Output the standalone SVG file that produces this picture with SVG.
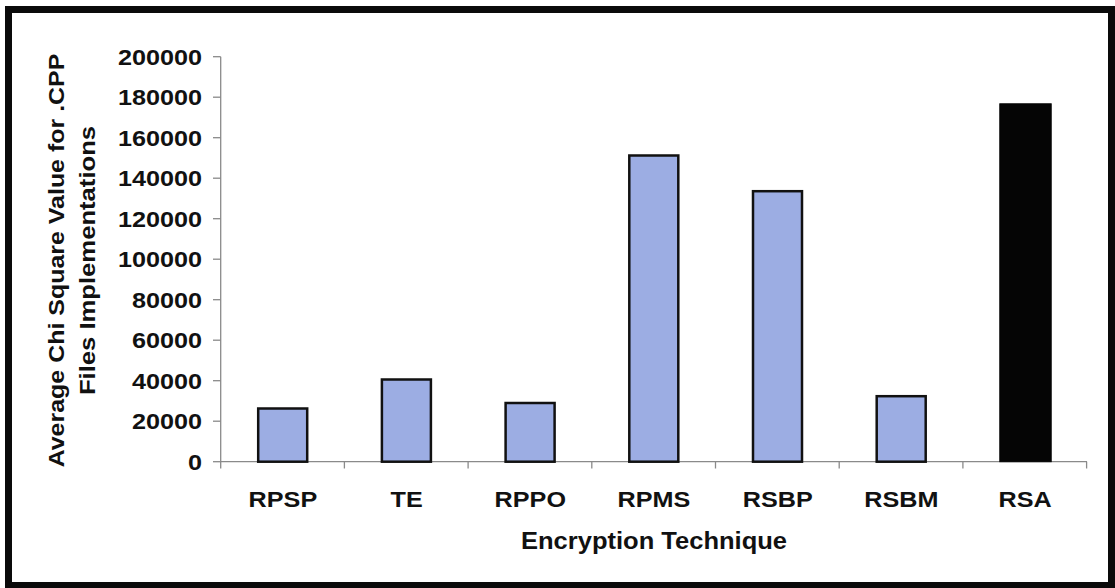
<svg xmlns="http://www.w3.org/2000/svg" width="1115" height="588" viewBox="0 0 1115 588">
  <style>
    .lbl { font-family: "Liberation Sans", Arial, sans-serif; font-weight: bold; font-size: 22.5px; fill: #111; }
    .num { text-anchor: end; }
    .cat { text-anchor: middle; }
    .axis { stroke: #8a8a8a; stroke-width: 1.3; fill: none; }
    .bar { fill: #9cade3; stroke: #111; stroke-width: 2.5; }
    .bar-dark { fill: #050505; stroke: #050505; stroke-width: 1; }
  </style>

  <!-- background and frame -->
  <rect x="0" y="0" width="1115" height="588" fill="#ffffff"/>
  <rect x="8.5" y="9.5" width="1103" height="576" fill="#ffffff" stroke="#0a0a0a" stroke-width="7"/>

  <!-- axes, ticks -->
  <g id="axes">
    <line class="axis" x1="220.7" y1="56.7" x2="220.7" y2="468.5"/>
    <line class="axis" x1="220.7" y1="461.7" x2="1087" y2="461.7"/>
    <g class="axis">
      <line x1="213" y1="461.7" x2="220.7" y2="461.7"/>
      <line x1="213" y1="421.2" x2="220.7" y2="421.2"/>
      <line x1="213" y1="380.7" x2="220.7" y2="380.7"/>
      <line x1="213" y1="340.2" x2="220.7" y2="340.2"/>
      <line x1="213" y1="299.7" x2="220.7" y2="299.7"/>
      <line x1="213" y1="259.2" x2="220.7" y2="259.2"/>
      <line x1="213" y1="218.7" x2="220.7" y2="218.7"/>
      <line x1="213" y1="178.2" x2="220.7" y2="178.2"/>
      <line x1="213" y1="137.7" x2="220.7" y2="137.7"/>
      <line x1="213" y1="97.2" x2="220.7" y2="97.2"/>
      <line x1="213" y1="56.7" x2="220.7" y2="56.7"/>
      <line x1="344.4" y1="461.7" x2="344.4" y2="468.5"/>
      <line x1="468.1" y1="461.7" x2="468.1" y2="468.5"/>
      <line x1="591.8" y1="461.7" x2="591.8" y2="468.5"/>
      <line x1="715.5" y1="461.7" x2="715.5" y2="468.5"/>
      <line x1="839.2" y1="461.7" x2="839.2" y2="468.5"/>
      <line x1="962.9" y1="461.7" x2="962.9" y2="468.5"/>
      <line x1="1086.6" y1="461.7" x2="1086.6" y2="468.5"/>
    </g>
  </g>

  <!-- value scale (labels widened horizontally) -->
  <g id="y-ticks" class="lbl num">
    <text transform="translate(202,64.8) scale(1.12,1)">200000</text>
    <text transform="translate(202,105.3) scale(1.12,1)">180000</text>
    <text transform="translate(202,145.8) scale(1.12,1)">160000</text>
    <text transform="translate(202,186.3) scale(1.12,1)">140000</text>
    <text transform="translate(202,226.8) scale(1.12,1)">120000</text>
    <text transform="translate(202,267.3) scale(1.12,1)">100000</text>
    <text transform="translate(202,307.8) scale(1.12,1)">80000</text>
    <text transform="translate(202,348.3) scale(1.12,1)">60000</text>
    <text transform="translate(202,388.8) scale(1.12,1)">40000</text>
    <text transform="translate(202,429.3) scale(1.12,1)">20000</text>
    <text transform="translate(202,469.8) scale(1.12,1)">0</text>
  </g>

  <!-- bars -->
  <g id="bar-rpsp"><rect class="bar" x="258.2" y="408.5" width="49" height="53.2"/></g>
  <g id="bar-te"><rect class="bar" x="381.9" y="379.5" width="49" height="82.2"/></g>
  <g id="bar-rppo"><rect class="bar" x="505.6" y="403" width="49" height="58.7"/></g>
  <g id="bar-rpms"><rect class="bar" x="629.3" y="155.5" width="49" height="306.2"/></g>
  <g id="bar-rsbp"><rect class="bar" x="753" y="191.2" width="49" height="270.5"/></g>
  <g id="bar-rsbm"><rect class="bar" x="876.7" y="396.2" width="49" height="65.5"/></g>
  <g id="bar-rsa"><rect class="bar-dark" x="999.8" y="103.8" width="51.4" height="357.9"/></g>

  <!-- category labels -->
  <g id="x-labels" class="lbl cat">
    <text transform="translate(282.9,506.8) scale(1.12,1)">RPSP</text>
    <text transform="translate(406.6,506.8) scale(1.12,1)">TE</text>
    <text transform="translate(530.3,506.8) scale(1.12,1)">RPPO</text>
    <text transform="translate(654,506.8) scale(1.12,1)">RPMS</text>
    <text transform="translate(777.7,506.8) scale(1.12,1)">RSBP</text>
    <text transform="translate(901.4,506.8) scale(1.12,1)">RSBM</text>
    <text transform="translate(1025.1,506.8) scale(1.12,1)">RSA</text>
  </g>

  <!-- axis titles -->
  <g id="x-title" class="lbl cat">
    <text transform="translate(654,549) scale(1.11,1)" style="font-size:23px">Encryption Technique</text>
  </g>
  <g id="y-title" class="lbl cat">
    <text transform="translate(64,260.5) rotate(-90) scale(1.11,1)">Average Chi Square Value for .CPP</text>
    <text transform="translate(94.5,260.5) rotate(-90) scale(1.14,1)">Files Implementations</text>
  </g>
</svg>
